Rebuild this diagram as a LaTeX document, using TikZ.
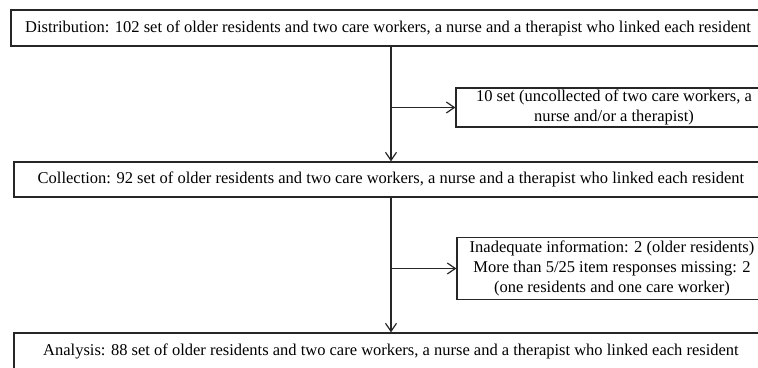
\documentclass[tikz,border=0pt]{standalone}
\usepackage{fontspec}
\setmainfont{Liberation Serif}
\usetikzlibrary{arrows.meta}
\begin{document}
\begin{tikzpicture}[x=1pt,y=-1pt,
  box/.style={draw=black!85, line width=1.3pt, rectangle, inner sep=0pt, align=center,
    font=\fontsize{16.5}{20}\selectfont, text=black},
  wide/.style={box, minimum width=754pt},
  arr/.style={draw=black!85, line width=1.2pt, -{Straight Barb[length=8pt,width=11pt,line width=1.2pt]}}]
\useasboundingbox (0,0) rectangle (758,367);
\clip (0,0) rectangle (758,367);
\node[wide, minimum height=36pt] (top) at (388,28) {Distribution: 102 set of older residents and two care workers, a nurse and a therapist who linked each resident};
\node[box, minimum width=316pt, minimum height=39pt] (side1) at (614,107.5) {10 set (uncollected of two care workers, a\\nurse and/or a therapist)};
\node[wide, minimum height=35pt] (coll) at (391,179.5) {Collection: 92 set of older residents and two care workers, a nurse and a therapist who linked each resident};
\node[box, minimum width=310pt, minimum height=62pt] (side2) at (612,268.5) {Inadequate information: 2 (older residents)\\More than 5/25 item responses missing: 2\\(one residents and one care worker)};
\node[wide, minimum height=36pt] (anal) at (391,351) {Analysis: 88 set of older residents and two care workers, a nurse and a therapist who linked each resident};
\coordinate (v1) at (coll.north |- top.south);
\coordinate (v2) at (coll.south);
\draw[arr] (v1) -- (coll.north);
\draw[arr] (v2) -- (v2 |- anal.north);
\draw[arr] (v1 |- side1.west) -- (side1.west);
\draw[arr] (v2 |- side2.west) -- (side2.west);
\end{tikzpicture}
\end{document}
